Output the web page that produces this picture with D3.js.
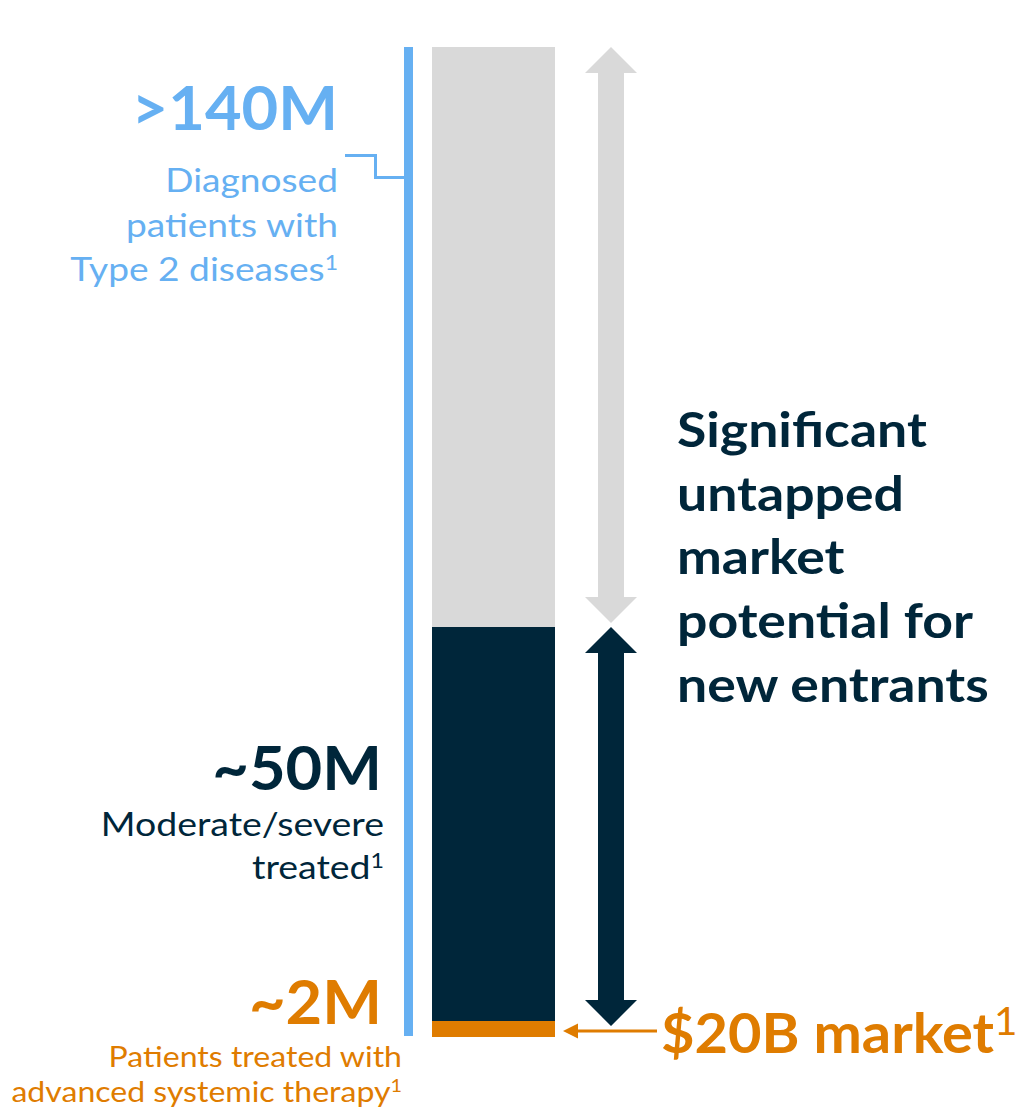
<!DOCTYPE html>
<html>
<head>
<meta charset="utf-8">
<script src="https://cdn.jsdelivr.net/npm/d3@7"></script>
<style>
  body { margin: 0; background: #fff; }
  svg { display: block; font-family: Lato, "Open Sans", sans-serif; }
</style>
</head>
<body>
<svg width="1025" height="1109"></svg>
<script>
// segments of the funnel bar, bottom to top (millions of patients)
const SEGMENTS = ["treated", "moderate", "diagnosed"];
const SEG_TOP = [2, 50, 140];
const SEG_COLORS = ["#df7c00", "#00263a", "#d9d9d9"];

const BIG_LABELS = [">140M", "~50M", "~2M"];
const SUB_LABELS = [
  ["Diagnosed", "patients with", "Type 2 diseases"],
  ["Moderate/severe", "treated"],
  ["Patients treated with", "advanced systemic therapy"]
];
const SIDE_TEXT = ["Significant", "untapped", "market", "potential for", "new entrants"];
const MARKET_LABEL = "$20B market";

const BLUE = "#66b0f2", NAVY = "#00263a", ORANGE = "#df7c00", GREY = "#d9d9d9";

const svg = d3.select("svg");

// bar is not to scale in the original, so use a piecewise scale
const y = d3.scaleLinear()
  .domain([0, 2, 50, 140])
  .range([1037, 1021, 627, 47]);

const barX = 432, barW = 123;

// stacked bar
const segs = SEG_TOP.map((top, i) => ({ name: SEGMENTS[i], y0: i ? SEG_TOP[i - 1] : 0, y1: top, color: SEG_COLORS[i] }));
svg.append("g").selectAll("rect")
  .data(segs)
  .join("rect")
    .attr("x", barX)
    .attr("width", barW)
    .attr("y", d => y(d.y1))
    .attr("height", d => y(d.y0) - y(d.y1))
    .attr("fill", d => d.color);

// blue bracket line for total diagnosed
svg.append("rect")
  .attr("x", 404).attr("width", 9)
  .attr("y", y(140)).attr("height", y(0) - y(140) - 1)
  .attr("fill", BLUE);

svg.append("path")
  .attr("d", "M345,155.5 H375.5 V177.5 H404")
  .attr("fill", "none")
  .attr("stroke", BLUE)
  .attr("stroke-width", 3);

// double arrows
function arrow(yTop, yBot, color) {
  const cx = 611, sh = 13, hw = 26, hl = 26;
  const d = `M${cx},${yTop} L${cx + hw},${yTop + hl} L${cx + sh},${yTop + hl}
    L${cx + sh},${yBot - hl} L${cx + hw},${yBot - hl} L${cx},${yBot}
    L${cx - hw},${yBot - hl} L${cx - sh},${yBot - hl} L${cx - sh},${yTop + hl}
    L${cx - hw},${yTop + hl} Z`;
  svg.append("path").attr("d", d).attr("fill", color);
}
arrow(y(140), y(50) - 4, GREY);
arrow(y(50), y(2) + 5, NAVY);

// orange pointer to the treated segment
const ay = (y(0) + y(2)) / 2 + 2;
svg.append("line")
  .attr("x1", 575).attr("x2", 657)
  .attr("y1", ay).attr("y2", ay)
  .attr("stroke", ORANGE).attr("stroke-width", 3);
svg.append("path")
  .attr("d", `M563,${ay} L578,${ay - 7.5} L578,${ay + 7.5} Z`)
  .attr("fill", ORANGE);

// helper: text with optional superscript 1; sx stretches horizontally like the original
function label(x, yy, str, size, weight, color, anchor, sup, sx, supScale) {
  const t = svg.append("g")
    .attr("transform", `translate(${x},${yy}) scale(${sx || 1},1)`)
    .append("text")
    .attr("font-size", size)
    .attr("font-weight", weight)
    .attr("fill", color)
    .attr("text-anchor", anchor)
    .text(str);
  if (sup) {
    t.append("tspan")
      .attr("font-size", size * (supScale || 0.62))
      .attr("font-weight", 400)
      .attr("dy", -size * 0.33)
      .text("1");
  }
  return t;
}

// left labels
label(338, 130, BIG_LABELS[0], 62, 700, BLUE, "end", false, 1.02);
SUB_LABELS[0].forEach((s, i) => label(338, 192 + i * 44.5, s, 33, 400, BLUE, "end", i === 2, 1.125));

label(382, 790, BIG_LABELS[1], 62, 700, NAVY, "end", false, 1.02);
SUB_LABELS[1].forEach((s, i) => label(384, 836 + i * 43, s, 33, 400, NAVY, "end", i === 1, 1.135));

label(382, 1024, BIG_LABELS[2], 62, 700, ORANGE, "end", false, 1.02);
SUB_LABELS[2].forEach((s, i) => label(402, 1067 + i * 35, s, 29, 400, ORANGE, "end", i === 1, 1.105));

// right text
SIDE_TEXT.forEach((s, i) => label(677, 447 + i * 63.7, s, 47, 700, NAVY, "start", false, 1.14));

label(661, 1053, MARKET_LABEL, 55, 700, ORANGE, "start", true, 1.05, 0.7);
</script>
</body>
</html>
